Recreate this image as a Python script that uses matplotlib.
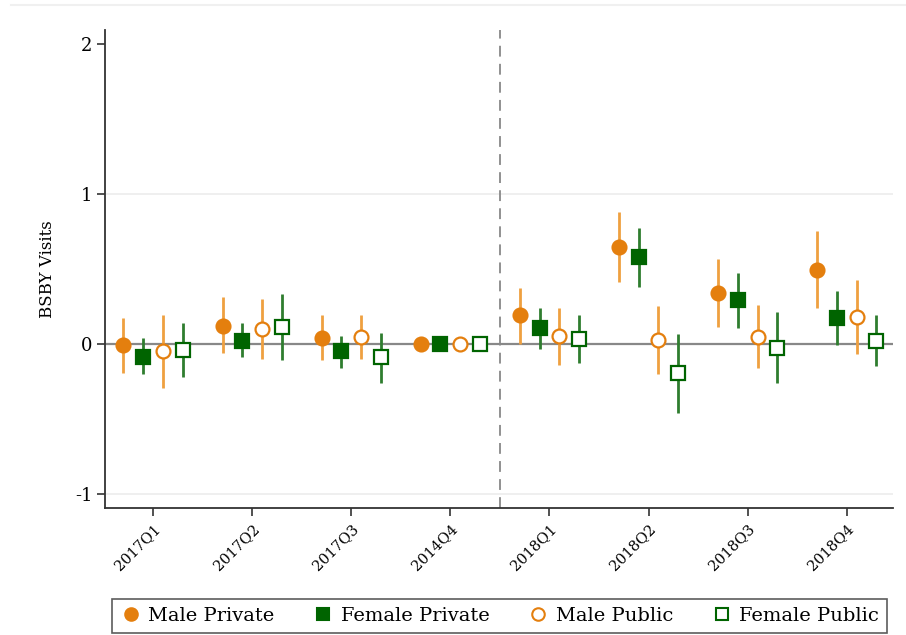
import numpy as np
import matplotlib.pyplot as plt
from matplotlib.lines import Line2D

plt.rcParams['font.family'] = ['DejaVu Serif']

quarters = ['2017Q1', '2017Q2', '2017Q3', '2014Q4', '2018Q1', '2018Q2', '2018Q3', '2018Q4']

# point estimates and 95% CI per group (2014Q4 is the omitted base period)
male_private = [-0.01, 0.12, 0.04, 0.0, 0.19, 0.645, 0.34, 0.49]
male_private_lo = [-0.195, -0.06, -0.11, 0.0, 0.0, 0.415, 0.11, 0.24]
male_private_hi = [0.175, 0.31, 0.19, 0.0, 0.37, 0.88, 0.565, 0.75]

female_private = [-0.085, 0.022, -0.05, 0.0, 0.105, 0.58, 0.29, 0.175]
female_private_lo = [-0.2, -0.09, -0.16, 0.0, -0.035, 0.38, 0.105, -0.005]
female_private_hi = [0.04, 0.14, 0.05, 0.0, 0.24, 0.775, 0.475, 0.355]

male_public = [-0.05, 0.1, 0.045, 0.0, 0.05, 0.027, 0.047, 0.178]
male_public_lo = [-0.295, -0.1, -0.1, 0.0, -0.14, -0.2, -0.16, -0.065]
male_public_hi = [0.19, 0.3, 0.19, 0.0, 0.24, 0.255, 0.26, 0.427]

female_public = [-0.04, 0.11, -0.09, 0.0, 0.035, -0.195, -0.03, 0.02]
female_public_lo = [-0.22, -0.11, -0.26, 0.0, -0.125, -0.46, -0.26, -0.145]
female_public_hi = [0.14, 0.33, 0.07, 0.0, 0.19, 0.065, 0.21, 0.19]

orange = '#E47F0E'
orange_ci = '#EFA040'
green = '#006400'
green_ci = '#2F7D2F'

fig = plt.figure(figsize=(9.06, 6.35), dpi=100)
ax = fig.add_axes([0.116, 0.2, 0.87, 0.753])

x = np.arange(1, len(quarters) + 1)

ax.axhline(-1, color='#ececec', lw=1.2, zorder=0)
ax.axhline(1, color='#ececec', lw=1.2, zorder=0)
ax.axhline(0, color='#888888', lw=1.6, zorder=1)
ax.axvline(4.5, color='#888888', lw=1.3, ls=(0, (6, 4)), zorder=1)

series = [
    (male_private, male_private_lo, male_private_hi, -0.3, 'o', orange, orange_ci, True, 'Male Private'),
    (female_private, female_private_lo, female_private_hi, -0.1, 's', green, green_ci, True, 'Female Private'),
    (male_public, male_public_lo, male_public_hi, 0.1, 'o', orange, orange_ci, False, 'Male Public'),
    (female_public, female_public_lo, female_public_hi, 0.3, 's', green, green_ci, False, 'Female Public'),
]

handles = []
for est, lo, hi, off, mk, col, cicol, filled, lab in series:
    xs = x + off
    ax.vlines(xs, lo, hi, color=cicol, lw=2.0, zorder=2)
    ax.plot(xs, est, ls='none', marker=mk, ms=10 if mk == 'o' else 9.5,
            mfc=col if filled else 'white', mec=col, mew=1.6, zorder=3)
    handles.append(Line2D([], [], ls='none', marker=mk, ms=9 if mk == 'o' else 8.5,
                          mfc=col if filled else 'white', mec=col, mew=1.5, label=lab))

ax.set_xlim(0.515, 8.47)
ax.set_ylim(-1.093, 2.093)
ax.set_yticks([-1, 0, 1, 2])
ax.set_yticklabels(['-1', '0', '1', '2'])
ax.set_xticks(x)
ax.set_xticklabels(quarters, rotation=45, ha='right', rotation_mode='anchor', fontsize=10.5)
ax.tick_params(axis='y', labelsize=13, length=6, width=1.2, color='#333333', pad=3)
ax.tick_params(axis='x', length=6, width=1.2, color='#333333', pad=4)
ax.set_ylabel('BSBY Visits', fontsize=12, labelpad=14)

for s in ['top', 'right']:
    ax.spines[s].set_visible(False)
for s in ['left', 'bottom']:
    ax.spines[s].set_color('#333333')
    ax.spines[s].set_linewidth(1.3)

leg = fig.legend(handles=handles, loc='lower center', ncol=4, bbox_to_anchor=(0.551, -0.012),
                 fontsize=14, frameon=True, fancybox=False, edgecolor='#333333',
                 handletextpad=0.3, columnspacing=1.9, borderpad=0.4, handlelength=1.2)
leg.get_frame().set_linewidth(1.2)

# faint rule along the top edge
fig.add_artist(Line2D([0.012, 1.0], [0.992, 0.992], color='#f0f0f0', lw=1.5))

fig.savefig('out.png', dpi=100)
